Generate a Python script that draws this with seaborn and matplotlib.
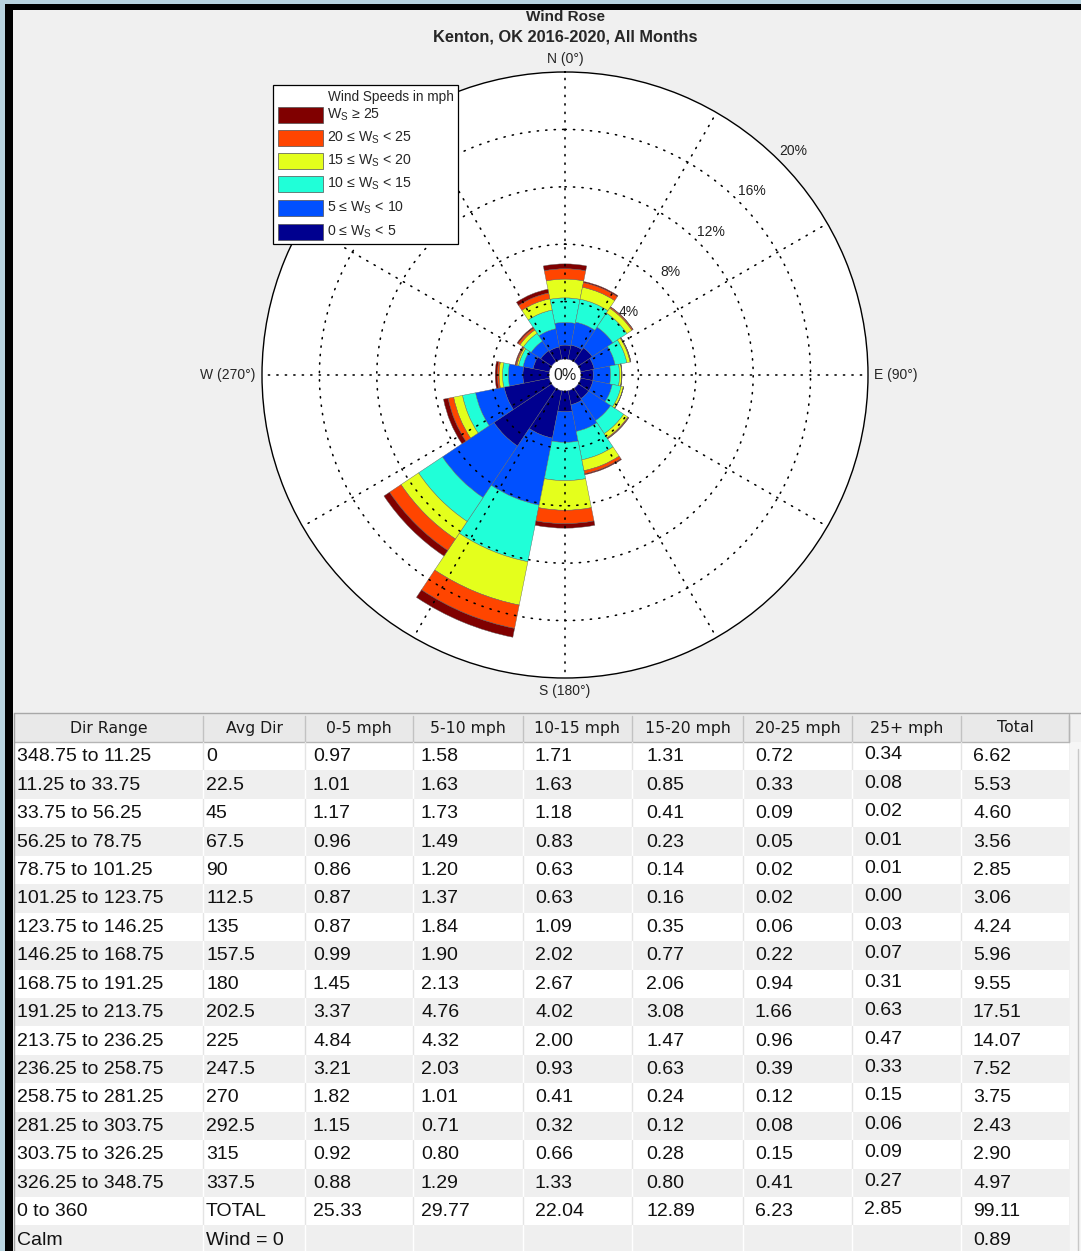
import numpy as np
import matplotlib
matplotlib.use("Agg")
import matplotlib.pyplot as plt
from matplotlib.patches import Rectangle
from matplotlib.lines import Line2D
import seaborn as sns

# ---------------- data ----------------
dir_ranges = ["348.75 to 11.25", "11.25 to 33.75", "33.75 to 56.25", "56.25 to 78.75",
              "78.75 to 101.25", "101.25 to 123.75", "123.75 to 146.25", "146.25 to 168.75",
              "168.75 to 191.25", "191.25 to 213.75", "213.75 to 236.25", "236.25 to 258.75",
              "258.75 to 281.25", "281.25 to 303.75", "303.75 to 326.25", "326.25 to 348.75"]
avg_dir = ["0", "22.5", "45", "67.5", "90", "112.5", "135", "157.5",
           "180", "202.5", "225", "247.5", "270", "292.5", "315", "337.5"]
spd_0_5 = [0.97, 1.01, 1.17, 0.96, 0.86, 0.87, 0.87, 0.99, 1.45, 3.37, 4.84, 3.21, 1.82, 1.15, 0.92, 0.88]
spd_5_10 = [1.58, 1.63, 1.73, 1.49, 1.20, 1.37, 1.84, 1.90, 2.13, 4.76, 4.32, 2.03, 1.01, 0.71, 0.80, 1.29]
spd_10_15 = [1.71, 1.63, 1.18, 0.83, 0.63, 0.63, 1.09, 2.02, 2.67, 4.02, 2.00, 0.93, 0.41, 0.32, 0.66, 1.33]
spd_15_20 = [1.31, 0.85, 0.41, 0.23, 0.14, 0.16, 0.35, 0.77, 2.06, 3.08, 1.47, 0.63, 0.24, 0.12, 0.28, 0.80]
spd_20_25 = [0.72, 0.33, 0.09, 0.05, 0.02, 0.02, 0.06, 0.22, 0.94, 1.66, 0.96, 0.39, 0.12, 0.08, 0.15, 0.41]
spd_25p = [0.34, 0.08, 0.02, 0.01, 0.01, 0.00, 0.03, 0.07, 0.31, 0.63, 0.47, 0.33, 0.15, 0.06, 0.09, 0.27]
dir_total = [6.62, 5.53, 4.60, 3.56, 2.85, 3.06, 4.24, 5.96, 9.55, 17.51, 14.07, 7.52, 3.75, 2.43, 2.90, 4.97]
bin_totals = [25.33, 29.77, 22.04, 12.89, 6.23, 2.85]
grand_total = 99.11
calm_pct = 0.89

bin_labels = ["0 \u2264 W$_\\mathrm{S}$ < 5", "5 \u2264 W$_\\mathrm{S}$ < 10", "10 \u2264 W$_\\mathrm{S}$ < 15",
              "15 \u2264 W$_\\mathrm{S}$ < 20", "20 \u2264 W$_\\mathrm{S}$ < 25", "W$_\\mathrm{S}$ \u2265 25"]
table_headers = ["Dir Range", "Avg Dir", "0-5 mph", "5-10 mph", "10-15 mph", "15-20 mph",
                 "20-25 mph", "25+ mph", "Total"]
ring_levels = [4, 8, 12, 16, 20]

# ---------------- style ----------------
sns.set_theme(style="white")
plt.rcParams['font.family'] = ['Liberation Sans', 'DejaVu Sans']
plt.rcParams['mathtext.fontset'] = 'custom'
plt.rcParams['mathtext.rm'] = 'Liberation Sans'
plt.rcParams['mathtext.it'] = 'Liberation Sans:italic'
plt.rcParams['mathtext.bf'] = 'Liberation Sans:bold'

palette = sns.color_palette(["#00008f", "#0050ff", "#20ffd8", "#e4ff1c", "#ff4500", "#800000"])

W, H = 1081, 1251
fig = plt.figure(figsize=(W / 100, H / 100), dpi=100, facecolor='#f0f0f0')


def fx(x):
    return x / W


def fy(y):
    return 1 - y / H


def rect(x0, y0, x1, y1, **kw):
    r = Rectangle((fx(x0), fy(y1)), (x1 - x0) / W, (y1 - y0) / H,
                  transform=fig.transFigure, **kw)
    fig.add_artist(r)
    return r


def hline(x0, x1, y, **kw):
    fig.add_artist(Line2D([fx(x0), fx(x1)], [fy(y), fy(y)], transform=fig.transFigure, **kw))


def vline(x, y0, y1, **kw):
    fig.add_artist(Line2D([fx(x), fx(x)], [fy(y0), fy(y1)], transform=fig.transFigure, **kw))


# window frame
rect(0, 0, W, 4, facecolor='#b8d3df', edgecolor='none', zorder=0.5)
rect(0, 0, 5, H, facecolor='#b8d3df', edgecolor='none', zorder=0.5)
rect(5, 4, W, 10, facecolor='black', edgecolor='none', zorder=0.6)
rect(5, 4, 13, H, facecolor='black', edgecolor='none', zorder=0.6)

# titles
fig.text(fx(565), fy(17), "Wind Rose", ha='center', va='center', fontsize=11, fontweight='bold')
fig.text(fx(565), fy(37.5), "Kenton, OK 2016-2020, All Months", ha='center', va='center',
         fontsize=11.8, fontweight='bold')

# ---------------- polar wind rose ----------------
hole = 1.115
rmax = 20
ax = fig.add_axes([262 / W, 1 - 678 / H, 606 / W, 606 / H], projection='polar')
ax.set_facecolor('white')
ax.set_theta_zero_location('N')
ax.set_theta_direction(-1)
ax.set_ylim(-hole, rmax)
ax.grid(False)
ax.set_xticks([])
ax.set_yticks([])
ax.spines['polar'].set_color('black')
ax.spines['polar'].set_linewidth(1.0)

theta = np.deg2rad(np.array([float(a) for a in avg_dir]))
width = 2 * np.pi / 16
series = [spd_0_5, spd_5_10, spd_10_15, spd_15_20, spd_20_25, spd_25p]
bottom = np.zeros(16)
for vals, col in zip(series, palette):
    vals = np.array(vals)
    ax.bar(theta, vals, width=width, bottom=bottom, color=col, edgecolor='#606060',
           linewidth=0.3, align='center', zorder=2)
    bottom = bottom + vals

dot = dict(color='black', linewidth=1.15, linestyle=(0, (0.8, 4.5)), zorder=4,
           dash_capstyle='round')
tt = np.linspace(0, 2 * np.pi, 600)
for lvl in ring_levels[:-1]:
    ax.plot(tt, np.full_like(tt, lvl), **dot)
for a in range(0, 360, 30):
    ax.plot([np.deg2rad(a)] * 2, [0, rmax], **dot)

for lvl in ring_levels:
    ax.text(np.deg2rad(45.5), lvl + 1.15, f"{lvl}%", ha='center', va='center',
            fontsize=10, color='#222222', zorder=6)
ax.text(0, -hole, "0%", ha='center', va='center', fontsize=11.5, color='#222222', zorder=6)

lab_r = 20.45
ax.text(0, lab_r, "N (0\u00b0)", ha='center', va='bottom', fontsize=10)
ax.text(np.pi / 2, lab_r, "E (90\u00b0)", ha='left', va='center', fontsize=10)
ax.text(np.pi, lab_r, "S (180\u00b0)", ha='center', va='top', fontsize=10)
ax.text(3 * np.pi / 2, lab_r, "W (270\u00b0)", ha='right', va='center', fontsize=10)

# ---------------- legend ----------------
rect(273, 85, 458, 244, facecolor='white', edgecolor='black', linewidth=0.9, zorder=5)
fig.text(fx(454), fy(97), "Wind Speeds in mph", ha='right', va='center', fontsize=9.8, zorder=6)
leg_y = [232, 208, 184, 161, 138, 115]
for yy, col, lab in zip(leg_y, palette, bin_labels):
    rect(278, yy - 7.5, 323, yy + 7.5, facecolor=col, edgecolor='#505050', linewidth=0.5, zorder=6)
    fig.text(fx(327), fy(yy), lab, ha='left', va='center', fontsize=10.2, zorder=6)

# ---------------- table ----------------
col_x = [14, 203, 305, 413, 523, 632, 743, 852, 961, 1069]
text_off = [3, 3, 8, 8, 12, 14, 12, 12, 12]
text_dy = [0, 0, 0, 0, 0, 0, 0, -2, 0]
head_top, head_bot = 714, 742
row_h = 28.44

hline(14, W, 713, color='#a8a8a8', linewidth=1.0, zorder=3)
rect(14, head_top, col_x[-1], head_bot, facecolor='#e9e9e9', edgecolor='none', zorder=2)
hline(14, col_x[-1], head_bot, color='#b5b5b5', linewidth=1.0, zorder=3)
for cx in col_x[1:]:
    vline(cx, head_top + 2, head_bot, color='#c2c2c2', linewidth=1.0, zorder=3)
for c, h in enumerate(table_headers):
    fig.text(fx((col_x[c] + col_x[c + 1]) / 2), fy(728), h, ha='center', va='center',
             fontsize=11.3, family=['DejaVu Sans'], color='#1a1a1a', zorder=4)

rows = []
for i in range(16):
    rows.append([dir_ranges[i], avg_dir[i], f"{spd_0_5[i]:.2f}", f"{spd_5_10[i]:.2f}",
                 f"{spd_10_15[i]:.2f}", f"{spd_15_20[i]:.2f}", f"{spd_20_25[i]:.2f}",
                 f"{spd_25p[i]:.2f}", f"{dir_total[i]:.2f}"])
rows.append(["0 to 360", "TOTAL"] + [f"{v:.2f}" for v in bin_totals] + [f"{grand_total:.2f}"])
rows.append(["Calm", "Wind = 0", "", "", "", "", "", "", f"{calm_pct:.2f}"])

for i, row in enumerate(rows):
    top = head_bot + i * row_h
    bg = 'white' if i % 2 == 0 else '#efefef'
    sep = '#e4e4e4' if i % 2 == 0 else 'white'
    rect(14, top, col_x[-1], top + row_h, facecolor=bg, edgecolor='none', zorder=2)
    for cx in col_x[1:-1]:
        vline(cx, top, top + row_h, color=sep, linewidth=1.0, zorder=3)
    for c, txt in enumerate(row):
        fig.text(fx(col_x[c] + text_off[c]), fy(top + row_h / 2 + 0.5 + text_dy[c]), txt,
                 ha='left', va='center', fontsize=14, color='#111111', zorder=4)

vline(14, 713, H, color='#a0a0a0', linewidth=1.0, zorder=3)
vline(col_x[-1], head_top, head_bot, color='#b5b5b5', linewidth=1.0, zorder=3)
rect(col_x[-1] + 1, head_bot, W, H, facecolor='#f6f6f6', edgecolor='none', zorder=2)
vline(1078, 749, H, color='#c8c8c8', linewidth=1.0, zorder=3)

fig.savefig("out.png", dpi=100, facecolor=fig.get_facecolor())
